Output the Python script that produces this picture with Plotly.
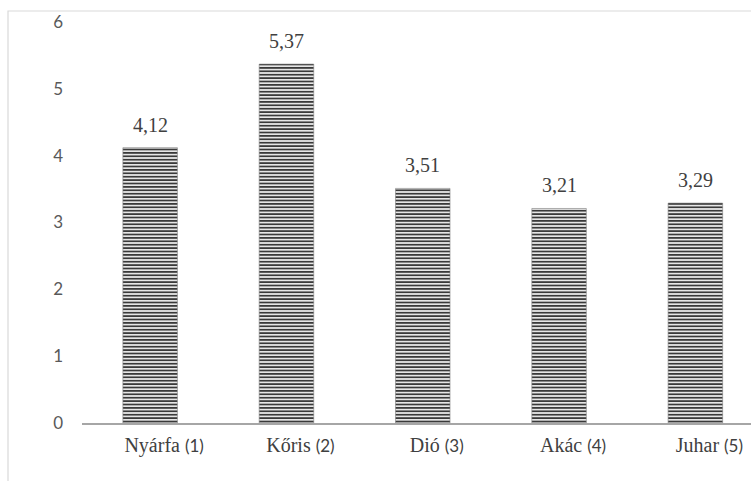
import plotly.graph_objects as go

# Wood species and measured values
species = ["Nyárfa", "Kőris", "Dió", "Akác", "Juhar"]
numbers = ["(1)", "(2)", "(3)", "(4)", "(5)"]
values = [4.12, 5.37, 3.51, 3.21, 3.29]
y_ticks = [0, 1, 2, 3, 4, 5, 6]

SERIF = "'Liberation Serif', 'DejaVu Serif', serif"
SANS = "Lato, 'Open Sans', sans-serif"

tick_text = [
    f"{s} <span style=\"font-family:Lato; font-size:17px\">{n}</span>"
    for s, n in zip(species, numbers)
]

fig = go.Figure(
    go.Bar(
        x=species,
        y=values,
        width=0.4,
        marker=dict(
            color="#d9d9d9",
            line=dict(color="#7f7f7f", width=0.6),
            pattern=dict(shape="-", fgcolor="#3a3a3a", bgcolor="#e6e6e6",
                         size=3.4, solidity=0.5, fillmode="replace"),
        ),
        hoverinfo="skip",
    )
)

# value labels above each bar, decimal comma
for s, v in zip(species, values):
    fig.add_annotation(
        x=s, y=v, text=f"{v:.2f}".replace(".", ","),
        showarrow=False, yanchor="bottom", yshift=10,
        font=dict(family=SERIF, size=20, color="#404040"),
    )

fig.update_layout(
    width=751,
    height=481,
    margin=dict(l=82, r=0, t=22, b=58),
    paper_bgcolor="white",
    plot_bgcolor="white",
    showlegend=False,
    bargap=0.6,
    xaxis=dict(
        range=[-0.5, 4.408],
        tickmode="array",
        tickvals=species,
        ticktext=tick_text,
        tickfont=dict(family=SERIF, size=20, color="#404040"),
        showline=True,
        linecolor="#a6a6a6",
        linewidth=2,
        ticks="",
        ticklabelshift=14,
        ticklabelstandoff=3,
        showgrid=False,
        zeroline=False,
    ),
    yaxis=dict(
        range=[0, 6],
        tickvals=y_ticks,
        tickfont=dict(family=SANS, size=17, color="#595959"),
        showgrid=False,
        zeroline=False,
        showline=False,
        ticks="",
        ticklabelstandoff=18,
    ),
    shapes=[
        # chart-area border (left and top edges visible)
        dict(type="rect", xref="paper", yref="paper",
             x0=-0.1106, x1=1.05, y0=-0.3, y1=1.0274,
             line=dict(color="#d9d9d9", width=1.2), fillcolor="rgba(0,0,0,0)",
             layer="below"),
    ],
)

fig.write_html("out.html")
